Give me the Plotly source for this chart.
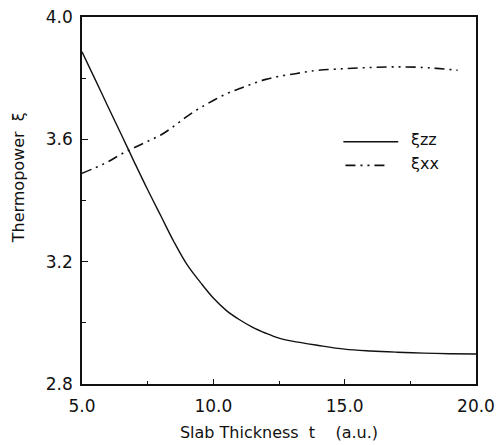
import plotly.graph_objects as go

# Slab thickness t (a.u.) and thermopower values
t_zz = [5.0, 5.5, 6.0, 6.5, 7.0, 7.5, 8.0, 8.5, 9.0, 9.5, 10.0, 10.5, 11.0, 11.5,
        12.0, 12.5, 13.0, 14.0, 15.0, 16.0, 17.0, 18.0, 19.0, 20.0]
xi_zz = [3.886, 3.796, 3.705, 3.615, 3.524, 3.435, 3.350, 3.265, 3.190, 3.133, 3.081, 3.040,
         3.010, 2.985, 2.966, 2.950, 2.940, 2.926, 2.914, 2.908, 2.904, 2.901, 2.899, 2.898]

t_xx = [5.0, 5.5, 6.0, 6.5, 7.0, 7.5, 8.0, 8.5, 9.0, 9.5, 10.0, 10.5, 11.0, 11.5,
        12.0, 12.5, 13.0, 13.5, 14.0, 15.0, 16.0, 17.0, 18.0, 18.5, 19.3]
xi_xx = [3.489, 3.507, 3.527, 3.552, 3.573, 3.594, 3.614, 3.643, 3.675, 3.703, 3.727, 3.749,
         3.766, 3.782, 3.796, 3.806, 3.813, 3.820, 3.826, 3.831, 3.835, 3.837, 3.835, 3.832, 3.826]

x_ticks = [5.0, 10.0, 15.0, 20.0]
y_ticks = [2.8, 3.2, 3.6, 4.0]
legend_names = ["ξzz", "ξxx"]

FONT = "DejaVu Sans"
INK = "#111111"
DASHDOT2 = "10px,5px,2px,5px,2px,5px"

fig = go.Figure()
fig.add_trace(go.Scatter(x=t_zz, y=xi_zz, mode="lines", line=dict(color=INK, width=1.4, shape="spline"),
                         name=legend_names[0], showlegend=False))
fig.add_trace(go.Scatter(x=t_xx, y=xi_xx, mode="lines", line=dict(color=INK, width=1.6, dash=DASHDOT2, shape="spline"),
                         name=legend_names[1], showlegend=False))

# legend keys
fig.add_shape(type="line", xref="x", yref="y", x0=14.95, x1=17.04, y0=3.592, y1=3.592,
              line=dict(color=INK, width=1.4))
fig.add_shape(type="line", xref="x", yref="y", x0=15.03, x1=16.63, y0=3.515, y1=3.515,
              line=dict(color=INK, width=1.6, dash=DASHDOT2))
fig.add_annotation(x=17.45, y=3.600, xref="x", yref="y", text=legend_names[0], showarrow=False,
                   xanchor="left", font=dict(family=FONT, size=16, color=INK))
fig.add_annotation(x=17.45, y=3.520, xref="x", yref="y", text=legend_names[1], showarrow=False,
                   xanchor="left", font=dict(family=FONT, size=16, color=INK))

# y axis title
fig.add_annotation(x=-0.162, y=0.561, xref="paper", yref="paper", text="Thermopower  ξ",
                   textangle=-90, showarrow=False, xanchor="center", yanchor="middle",
                   font=dict(family=FONT, size=16, color=INK))

axis_common = dict(showline=True, linecolor=INK, linewidth=1.5, mirror=True, showgrid=False,
                   zeroline=False, ticks="inside", tickcolor=INK, tickwidth=1.2, automargin=False,
                   ticklabeloverflow="allow",
                   tickfont=dict(family=FONT, size=17, color=INK))

fig.update_xaxes(range=[5, 20], tickvals=x_ticks, ticktext=[f"{v:.1f}" for v in x_ticks],
                 ticklen=5, ticklabelstandoff=6,
                 minor=dict(tickvals=[7.5, 12.5, 17.5], ticks="inside", ticklen=3, tickcolor=INK, tickwidth=1.2),
                 title=dict(text="Slab Thickness  t    (a.u.)", font=dict(family=FONT, size=16, color=INK),
                            standoff=12),
                 **axis_common)
fig.update_yaxes(range=[2.8, 4.0], tickvals=y_ticks, ticktext=[f"{v:.1f}" for v in y_ticks],
                 ticklen=6, ticklabelstandoff=4,
                 minor=dict(tickvals=[3.0, 3.4, 3.8], ticks="inside", ticklen=4, tickcolor=INK, tickwidth=1.2),
                 **axis_common)

fig.update_layout(width=498, height=445, margin=dict(l=82, r=22, t=17, b=61),
                  paper_bgcolor="white", plot_bgcolor="white", showlegend=False,
                  font=dict(family=FONT, color=INK))

fig.write_html("out.html", config={"displayModeBar": False},
               post_script="document.body.style.margin='0';document.body.style.overflow='hidden';")
